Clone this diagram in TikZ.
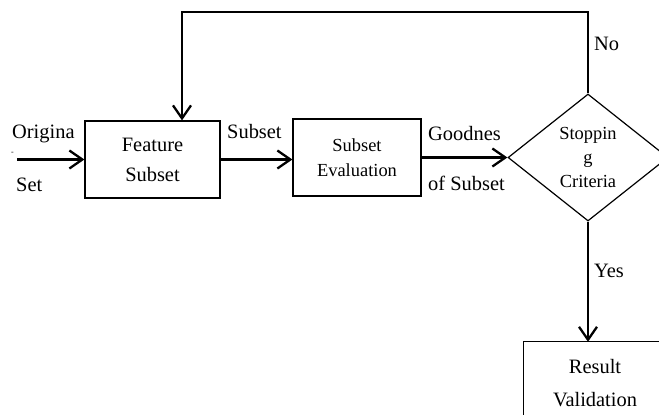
\documentclass[tikz,border=0pt]{standalone}
\usepackage{fontspec}
\setmainfont{Liberation Serif}
\usetikzlibrary{shapes.geometric,arrows.meta}
\begin{document}
\begin{tikzpicture}[x=1bp,y=-1bp,
  box/.style={draw, line width=1.2bp, inner sep=0pt, align=center},
  edge/.style={line width=1.2bp},
  conn/.style={line width=2.3bp, -{Straight Barb[length=13bp,width=18bp,line width=2.3bp]}},
  big/.style={font=\fontsize{20.5}{30}\selectfont},
  small/.style={font=\fontsize{18.5}{24.5}\selectfont},
  lab/.style={big, inner sep=0pt, anchor=base west}]
\useasboundingbox (0,0) rectangle (659,414);
% boxes
\node[box,big,minimum width=135bp,minimum height=77bp] (feat) at (152.5,159.5) {Feature\\Subset};
\node[box,small,minimum width=128bp,minimum height=77bp] (eval) at (357,157.5) {Subset\\Evaluation};
\node[draw,line width=1.2bp,diamond,aspect=1.26,minimum width=160bp,minimum height=127bp,inner sep=0pt,small,align=center] (dia) at (588,157.5) {Stoppin\\g\\Criteria};
\node[inner sep=0pt,align=center,font=\fontsize{20.5}{33}\selectfont,minimum width=142bp,minimum height=82bp] (res) at (595,383) {Result\\Validation};
\draw[edge] (res.south west) -- (res.north west) -- (res.north east);
% connectors
\coordinate (src) at (17,159.5);
\coordinate (fb) at (182,12);
\draw[conn] (src) -- (feat.west);
\draw[conn] (feat.east) -- (feat.east -| eval.west);
\draw[conn] (eval.east) -- (dia.west);
\draw[conn] (dia.north) |- (fb) -- (fb |- feat.north);
\draw[conn] (dia.south) -- (dia.south |- res.north);
% labels
\node[lab] (lorig) at (12,138) {Origina};
\node[lab,font=\fontsize{8}{8}\selectfont] (lhy) at (11,154) {-};
\node[lab] (lset) at (16,191) {Set};
\node[lab] (lsub) at (227,138) {Subset};
\node[lab] (lgood) at (428,140) {Goodnes};
\node[lab] (lof) at (428,190) {of Subset};
\node[lab] (lno) at (594,50) {No};
\node[lab] (lyes) at (594,277) {Yes};
\end{tikzpicture}
\end{document}
